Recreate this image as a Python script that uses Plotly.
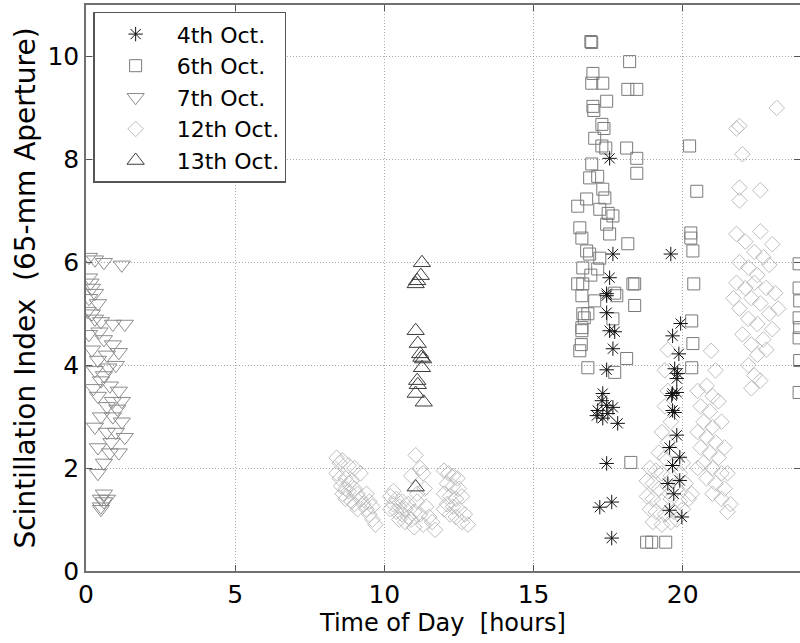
import plotly.graph_objects as go

# ---------------- data (hours, scintillation index) ----------------
oct4_x = [17.55, 17.66, 17.55, 17.45, 17.45, 17.45, 17.55, 17.72, 17.66, 17.45,
          17.32, 17.29, 17.45, 17.15, 17.49, 17.66, 17.32, 17.82, 17.12,
          17.45, 17.22, 17.62, 17.62,
          19.60, 19.93, 19.66, 19.87, 19.73, 19.83, 19.80, 19.66, 19.73,
          19.63, 19.80, 19.66, 19.80, 19.56, 19.90, 19.66, 19.50, 19.90,
          19.70, 19.56, 19.97]
oct4_y = [8.02, 6.16, 5.70, 5.39, 5.35, 5.02, 4.67, 4.65, 4.32, 3.91,
          3.45, 3.31, 3.22, 3.12, 3.06, 3.18, 2.97, 2.87, 3.02,
          2.09, 1.24, 1.34, 0.64,
          6.16, 4.81, 4.57, 4.22, 3.93, 3.84, 3.74, 3.45, 3.08,
          3.41, 3.47, 3.12, 2.64, 2.40, 2.21, 2.05, 1.70, 1.76,
          1.50, 1.18, 1.05]

oct6_x = [16.92, 16.95, 18.22, 16.99, 16.95, 17.32, 18.16, 18.46, 17.45, 16.99,
          17.02, 17.29, 17.36, 17.05, 17.29, 17.42, 18.12, 18.46, 18.46, 16.95,
          16.88, 17.15, 17.32, 16.78, 17.39, 16.48, 17.22, 17.50, 17.66, 16.55,
          17.45, 17.55, 16.62, 18.16, 16.78, 16.65, 17.15, 18.39, 16.48, 16.92,
          17.72, 16.62, 17.79, 18.39, 16.65, 16.62, 16.62, 17.66, 16.55, 16.82,
          18.12, 17.72, 18.26, 18.79, 18.96, 19.43, 16.88, 17.22, 16.65, 17.05,
          18.33, 16.82, 16.70, 16.60,
          20.23, 20.47, 20.27, 20.27, 20.34, 20.37, 20.30, 20.34, 20.30,
          23.90, 23.90, 23.92, 23.90, 23.92, 23.90, 23.92, 23.90]
oct6_y = [10.29, 10.27, 9.90, 9.67, 9.48, 9.48, 9.36, 9.36, 9.13, 9.03,
          8.95, 8.68, 8.60, 8.41, 8.26, 8.22, 8.22, 8.02, 7.73, 7.91,
          7.64, 7.67, 7.42, 7.23, 7.25, 7.09, 7.03, 6.95, 6.90, 6.67,
          6.74, 6.55, 6.47, 6.36, 6.22, 5.89, 5.87, 5.58, 5.58, 5.75,
          5.40, 5.35, 5.35, 5.16, 5.00, 4.73, 4.67, 4.90, 4.28, 3.95,
          4.13, 3.86, 2.11, 0.56, 0.56, 0.56, 6.16, 6.08, 5.58, 5.25,
          5.58, 5.00, 4.92, 4.40,
          8.26, 7.38, 6.57, 6.47, 6.22, 5.58, 4.86, 4.42, 3.95,
          5.97, 5.50, 5.25, 4.92, 4.73, 4.53, 4.09, 3.47]

oct7_x = [0.10, 0.30, 0.60, 1.20, 0.10, 0.20, 0.30, 0.10, 0.40, 0.05,
          0.20, 0.30, 0.50, 0.90, 1.30, 0.10, 0.60, 0.90, 0.20, 0.70,
          1.10, 0.40, 1.00, 0.30, 0.60, 0.50, 0.80, 1.10, 0.40, 0.90,
          1.20, 0.70, 0.50, 0.90, 1.20, 0.30, 0.70, 1.00, 1.30, 0.40,
          0.80, 1.10, 0.60, 0.40, 0.60, 0.50, 0.60, 0.50, 0.70, 0.50,
          0.15, 0.45, 0.75, 1.05, 0.25, 0.85]
oct7_y = [6.10, 6.05, 6.00, 5.95, 5.70, 5.50, 5.40, 5.30, 5.20, 5.05,
          5.00, 4.90, 4.85, 4.80, 4.80, 4.60, 4.50, 4.40, 4.30, 4.20,
          4.25, 4.10, 4.00, 3.90, 3.80, 3.70, 3.60, 3.50, 3.40, 3.30,
          3.30, 3.20, 3.00, 3.00, 2.90, 2.80, 2.70, 2.70, 2.60, 2.40,
          2.30, 2.30, 2.10, 1.90, 1.50, 1.40, 1.35, 1.25, 1.40, 1.20,
          5.60, 4.65, 3.95, 3.15, 3.55, 2.50]

oct12_x = [8.4, 8.5, 8.6, 8.8, 9.0, 9.2, 8.4, 8.5, 8.7, 8.9,
           8.55, 8.7, 8.8, 8.6, 9.0, 9.1, 8.7, 8.9, 9.2, 9.3,
           9.4, 9.1, 9.5, 9.6, 9.7, 9.4, 9.5, 8.8, 9.0, 9.6,
           11.05, 11.2, 11.3, 10.9, 11.35, 11.1, 10.3, 10.2, 10.4, 10.6,
           10.3, 10.5, 10.7, 10.4, 10.6, 10.8, 10.5, 10.7, 10.9, 11.0,
           11.2, 11.4, 11.5, 11.6, 11.0, 10.8, 11.3, 11.7, 10.2, 11.1,
           12.0, 12.15, 12.3, 12.45, 12.1, 12.3, 12.5, 12.0, 12.2, 12.4,
           12.6, 12.1, 12.3, 12.5, 12.7, 12.4, 12.6, 12.8, 12.2, 12.0,
           19.5, 19.4, 19.5, 19.4, 19.6, 19.3, 19.5, 19.2, 19.4, 19.7,
           18.9, 19.1, 19.3, 19.6, 19.9, 18.8, 19.0, 19.2, 19.5, 19.8,
           20.1, 18.8, 19.0, 19.3, 19.6, 19.9, 20.2, 18.9, 19.1, 19.4,
           19.7, 20.0, 19.0, 19.3, 19.6, 19.8, 20.3, 20.0,
           20.5, 20.8, 21.0, 20.6, 20.9, 21.2, 20.7, 21.0, 21.3, 20.5,
           20.8, 21.1, 20.6, 20.9, 21.2, 21.4, 20.7, 21.0, 21.3, 20.8,
           21.1, 21.4, 21.0, 21.3, 21.6, 21.5, 20.5, 21.1, 20.95, 21.5,
           23.15, 21.8, 21.9, 22.0, 21.9, 22.6, 21.9, 21.8, 22.6, 22.1,
           23.0, 22.4, 22.7, 21.9, 22.2, 22.9, 22.5, 21.8, 22.1, 22.8,
           23.1, 22.3, 22.6, 21.9, 22.9, 22.2, 22.5, 23.0, 22.0, 22.7,
           22.3, 22.5, 22.2, 22.4, 22.6, 22.3, 22.8, 21.7, 22.4, 23.2]
oct12_y = [2.2, 2.1, 2.15, 2.05, 2.0, 1.9, 1.9, 1.8, 1.8, 1.75,
           1.65, 1.6, 1.55, 1.5, 1.6, 1.5, 1.4, 1.35, 1.4, 1.3,
           1.2, 1.2, 1.1, 1.0, 0.9, 1.5, 1.35, 1.7, 1.3, 1.25,
           2.25, 2.0, 1.9, 1.85, 1.6, 1.5, 1.55, 1.45, 1.4, 1.35,
           1.3, 1.25, 1.2, 1.15, 1.1, 1.05, 1.0, 0.95, 1.0, 1.15,
           1.1, 1.25, 1.05, 0.95, 0.85, 1.3, 0.9, 0.8, 1.2, 1.35,
           1.95, 1.9, 1.85, 1.8, 1.7, 1.65, 1.6, 1.5, 1.45, 1.4,
           1.45, 1.3, 1.25, 1.2, 1.1, 1.05, 0.95, 0.9, 1.1, 1.2,
           4.3, 3.9, 3.5, 3.2, 2.9, 2.7, 2.5, 2.3, 2.2, 2.3,
           2.0, 1.95, 1.9, 1.85, 1.9, 1.75, 1.7, 1.6, 1.65, 1.6,
           1.7, 1.45, 1.4, 1.35, 1.4, 1.35, 1.4, 1.2, 1.15, 1.1,
           1.15, 1.2, 0.95, 0.9, 0.95, 1.0, 1.5, 2.1,
           3.5, 3.6, 3.4, 3.2, 3.1, 3.3, 2.9, 2.8, 2.9, 2.7,
           2.6, 2.5, 2.4, 2.3, 2.2, 2.4, 2.1, 2.0, 1.9, 1.8,
           1.7, 1.6, 1.5, 1.4, 1.3, 1.15, 2.0, 3.9, 4.28, 1.9,
           9.0, 8.6, 8.65, 8.1, 7.45, 7.4, 7.2, 6.55, 6.6, 6.4,
           6.35, 6.2, 6.1, 6.0, 5.9, 5.95, 5.75, 5.6, 5.5, 5.5,
           5.4, 5.3, 5.2, 5.1, 5.0, 4.9, 4.8, 4.7, 4.6, 4.5,
           4.4, 4.2, 4.0, 3.8, 3.7, 3.55, 4.3, 5.3, 5.6, 5.1]

oct13_x = [11.26, 11.22, 11.10, 11.05, 11.05, 11.12, 11.20, 11.24, 11.30,
           11.26, 11.10, 11.12, 11.05, 11.32, 11.05]
oct13_y = [5.99, 5.74, 5.64, 5.58, 4.67, 4.42, 4.22, 4.15, 4.12,
           3.95, 3.70, 3.62, 3.45, 3.28, 1.63]

x_ticks = [0, 5, 10, 15, 20]
y_ticks = [0, 2, 4, 6, 8, 10]

FONT = "DejaVu Sans"

fig = go.Figure()

def add(name, xs, ys, symbol, color, size, rank, lw=1):
    fig.add_trace(go.Scatter(
        x=xs, y=ys, mode="markers", name=name, legendrank=rank,
        marker=dict(symbol=symbol, size=size, color=color,
                    line=dict(color=color, width=lw)),
    ))

# draw order: light ones first, dark ones on top
add("12th Oct.", oct12_x, oct12_y, "diamond-open", "#bdbdbd", 12, 4)
add("7th Oct.", oct7_x, oct7_y, "triangle-down-open", "#8c8c8c", 15, 3)
add("6th Oct.", oct6_x, oct6_y, "square-open", "#7a7a7a", 12, 2)
add("13th Oct.", oct13_x, oct13_y, "triangle-up-open", "#3a3a3a", 15, 5)
add("4th Oct.", oct4_x, oct4_y, "asterisk-open", "#111111", 12, 1)

axis_common = dict(
    showgrid=True, gridcolor="#a8a8a8", griddash="1px,2px", gridwidth=1,
    zeroline=False, showline=True, linecolor="#707070", linewidth=1.5,
    ticks="inside", ticklen=6, tickcolor="#555555", tickwidth=1,
    tickfont=dict(family=FONT, size=25, color="black"),
)

fig.update_layout(
    width=800, height=643,
    margin=dict(l=86, r=0, t=5, b=72),
    plot_bgcolor="white", paper_bgcolor="white",
    font=dict(family=FONT, size=22, color="black"),
    xaxis=dict(range=[0, 23.93], tickvals=x_ticks, mirror="ticks",
               title=dict(text="Time of Day\u00a0 [hours]", standoff=2,
                          font=dict(family=FONT, size=24)),
               **axis_common),
    yaxis=dict(range=[0, 11], tickvals=y_ticks, mirror=False,
               title=dict(text="Scintillation Index\u00a0 (65-mm Aperture)",
                          standoff=4, font=dict(family=FONT, size=28)),
               **axis_common),
    yaxis2=dict(range=[0, 11], tickvals=y_ticks, overlaying="y", side="right",
                showgrid=False, zeroline=False, showline=False,
                ticks="inside", ticklen=6, tickcolor="#555555",
                showticklabels=False),
    legend=dict(x=0.01, y=0.988, xanchor="left", yanchor="top",
                bgcolor="white", bordercolor="#555555", borderwidth=1.5,
                font=dict(family=FONT, size=22, color="black"),
                itemwidth=72, tracegroupgap=0),
    showlegend=True,
)

# invisible helper trace to activate the right-hand tick axis
fig.add_trace(go.Scatter(x=[None], y=[None], yaxis="y2", showlegend=False,
                         hoverinfo="skip"))

fig.write_html("out.html")
